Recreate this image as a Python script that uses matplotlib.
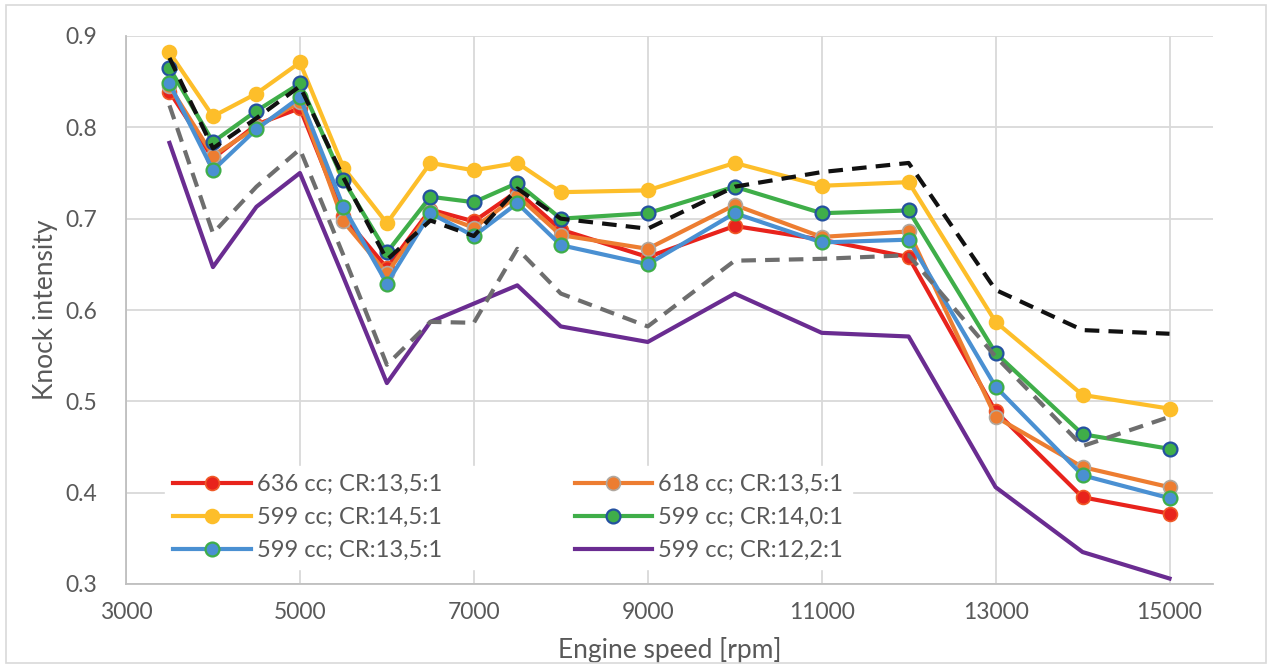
import matplotlib
matplotlib.use("Agg")
import matplotlib.pyplot as plt
from matplotlib.patches import Rectangle

rpm = [3500, 4000, 4500, 5000, 5500, 6000, 6500, 7000, 7500, 8000,
       9000, 10000, 11000, 12000, 13000, 14000, 15000]

red = [0.839, 0.766, 0.803, 0.821, 0.703, 0.646, 0.710, 0.697, 0.730, 0.688,
       0.658, 0.692, 0.677, 0.658, 0.489, 0.395, 0.377]
orange = [0.845, 0.769, 0.800, 0.828, 0.697, 0.640, 0.708, 0.690, 0.725, 0.682,
          0.667, 0.715, 0.680, 0.686, 0.483, 0.428, 0.406]
yellow = [0.882, 0.812, 0.837, 0.871, 0.756, 0.695, 0.761, 0.753, 0.761, 0.729,
          0.731, 0.761, 0.736, 0.740, 0.587, 0.507, 0.492]
green = [0.865, 0.784, 0.818, 0.848, 0.742, 0.663, 0.724, 0.718, 0.739, 0.700,
         0.706, 0.735, 0.706, 0.709, 0.553, 0.464, 0.448]
blue = [0.848, 0.753, 0.798, 0.833, 0.713, 0.629, 0.706, 0.681, 0.717, 0.671,
        0.650, 0.706, 0.674, 0.677, 0.516, 0.419, 0.394]
purple = [0.783, 0.647, 0.713, 0.750, 0.636, 0.520, 0.587, 0.607, 0.627, 0.582,
          0.565, 0.618, 0.575, 0.571, 0.406, 0.335, 0.306]
black_dash = [0.876, 0.777, 0.810, 0.845, 0.745, 0.655, 0.698, 0.681, 0.733, 0.700,
              0.689, 0.735, 0.751, 0.761, 0.622, 0.578, 0.574]
grey_dash = [0.824, 0.684, 0.735, 0.776, 0.660, 0.540, 0.587, 0.586, 0.667, 0.618,
             0.582, 0.654, 0.656, 0.660, 0.549, 0.451, 0.483]

labels = ["636 cc; CR:13,5:1", "618 cc; CR:13,5:1", "599 cc; CR:14,5:1",
          "599 cc; CR:14,0:1", "599 cc; CR:13,5:1", "599 cc; CR:12,2:1"]

txt = "#595959"
plt.rcParams['font.family'] = ['Lato', 'DejaVu Sans']

fig = plt.figure(figsize=(12.72, 6.68), dpi=100)
ax = fig.add_axes([126/1272, 1 - 584/668, (1213-126)/1272, (584-36)/668])

lw = 3
ms = 10
h_red, = ax.plot(rpm, red, color="#E8231C", lw=lw, marker="o", ms=ms,
                 mfc="#E8231C", mec="#F05A28", mew=1.2, zorder=3)
h_orange, = ax.plot(rpm, orange, color="#ED7D31", lw=lw, marker="o", ms=ms,
                    mfc="#ED7D31", mec="#B0A8A0", mew=1.2, zorder=3)
h_yellow, = ax.plot(rpm, yellow, color="#FDBE2A", lw=lw, marker="o", ms=ms,
                    mfc="#FDBE2A", mec="#FDBE2A", mew=1.2, zorder=3)
h_green, = ax.plot(rpm, green, color="#3FAE49", lw=lw, marker="o", ms=ms,
                   mfc="#3FAE49", mec="#2451A0", mew=1.6, zorder=3)
h_blue, = ax.plot(rpm, blue, color="#4A90D2", lw=lw, marker="o", ms=ms,
                  mfc="#4A90D2", mec="#3FAE49", mew=1.6, zorder=3)
h_purple, = ax.plot(rpm, purple, color="#6A2C91", lw=lw, zorder=3)
ax.plot(rpm, grey_dash, color="#6E6E6E", lw=3, dashes=(3.5, 2.2), zorder=3)
ax.plot(rpm, black_dash, color="#111111", lw=3, dashes=(3.5, 2.2), zorder=4)

ax.set_xlim(3000, 15500)
ax.set_ylim(0.3, 0.9)
ax.set_xticks(range(3000, 15001, 2000))
ax.set_yticks([0.3, 0.4, 0.5, 0.6, 0.7, 0.8, 0.9])
ax.set_yticklabels(["0.3", "0.4", "0.5", "0.6", "0.7", "0.8", "0.9"])
ax.grid(True, color="#D9D9D9", lw=1.3)
ax.set_axisbelow(True)
for s in ["top", "right"]:
    ax.spines[s].set_visible(False)
for s in ["left", "bottom"]:
    ax.spines[s].set_color("#BFBFBF")
    ax.spines[s].set_linewidth(1.3)
ax.tick_params(length=0, labelsize=16.5, labelcolor=txt)
ax.tick_params(axis="y", pad=21)
ax.tick_params(axis="x", pad=13)
ax.set_xlabel("Engine speed [rpm]", fontsize=19, color=txt, va="center")
ax.set_ylabel("Knock intensity", fontsize=19, color=txt, va="center")
ax.xaxis.set_label_coords(0.5, -(650 - 584) / 548)
ax.yaxis.set_label_coords((45 - 126) / 1087, 0.5)

leg = ax.legend([h_red, h_yellow, h_blue, h_orange, h_green, h_purple],
                [labels[0], labels[2], labels[4], labels[1], labels[3], labels[5]],
                ncol=2, loc="upper left", bbox_to_anchor=(0.025, 0.237),
                fontsize=17, frameon=True, fancybox=False, framealpha=1,
                edgecolor="white", handlelength=3.3, handletextpad=0.25,
                columnspacing=5.6, labelspacing=0.5, borderpad=0.35)
for t in leg.get_texts():
    t.set_color(txt)

fig.patches.append(Rectangle((0.005, 0.008), 0.99, 0.984, transform=fig.transFigure,
                             fill=False, edgecolor="#D9D9D9", lw=1.2))

fig.savefig("out.png", dpi=100, facecolor="white")
